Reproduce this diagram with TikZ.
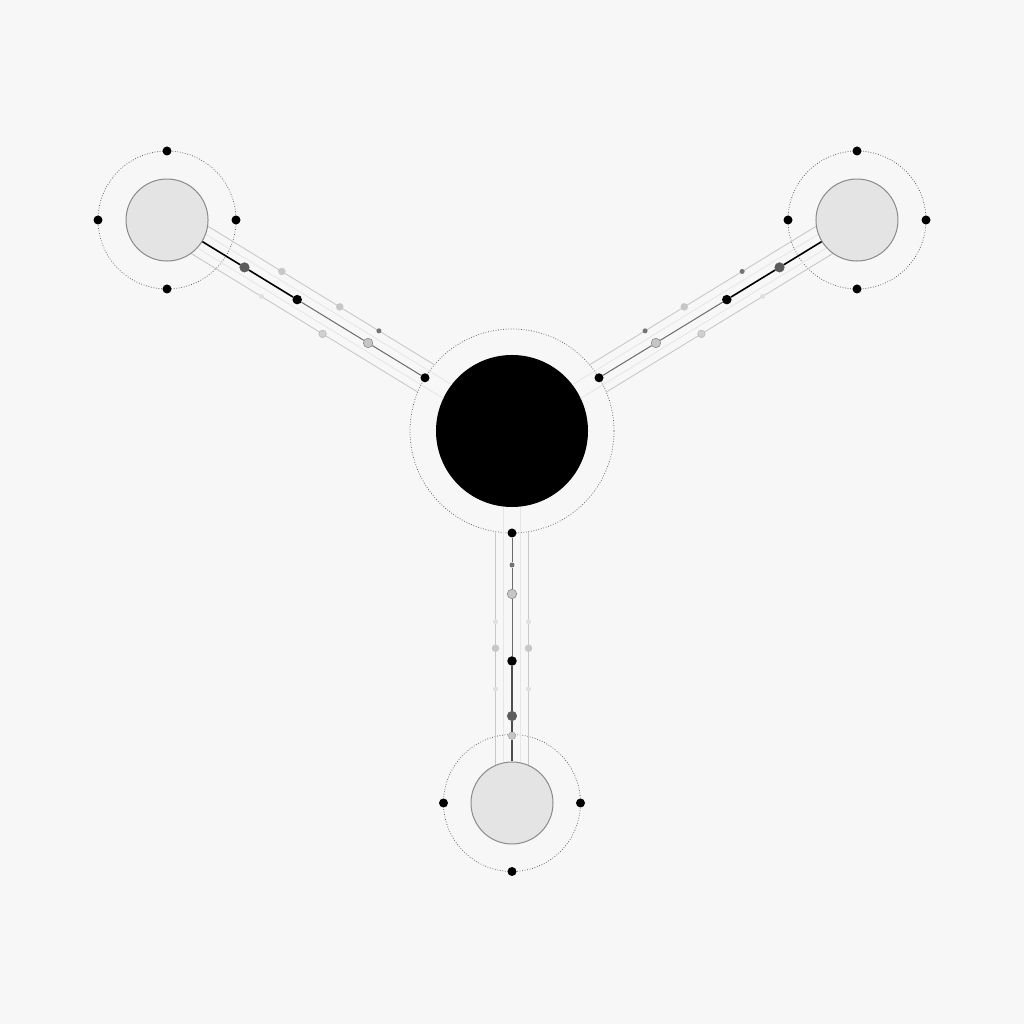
\documentclass[tikz,border=0pt]{standalone}
\usetikzlibrary{calc}
\definecolor{bg}{HTML}{F7F7F7}
\definecolor{satfill}{HTML}{E4E4E4}
\definecolor{satline}{HTML}{8A8A8A}
\definecolor{railc}{HTML}{C8C8C8}
\definecolor{faintc}{HTML}{E6E6E6}
\definecolor{darkdot}{HTML}{5C5C5C}
\definecolor{lightdot}{HTML}{C6C6C6}
\tikzset{
  x=1pt,y=1pt,
  blackdot/.style={circle,fill=black,inner sep=0,minimum size=9.5pt},
  ringdot/.style={circle,fill=black,inner sep=0,minimum size=9pt},
  darkbead/.style={circle,fill=darkdot,draw=black!65,line width=0.5pt,inner sep=0,minimum size=9.5pt},
  lightbead/.style={circle,fill=lightdot,draw=black!45,line width=0.6pt,inner sep=0,minimum size=9.5pt},
  lightsmall/.style={circle,fill=lightdot,draw=black!35,line width=0.5pt,inner sep=0,minimum size=7.5pt},
  smallbead/.style={circle,fill=black!55,inner sep=0,minimum size=5pt},
  railbead/.style={circle,fill=black!22,inner sep=0,minimum size=7.5pt},
  hatchbead/.style={circle,fill=black!18,draw=black!30,line width=0.5pt,inner sep=0,minimum size=7.5pt},
  faintbead/.style={circle,fill=black!12,inner sep=0,minimum size=5pt},
  ringline/.style={draw=black!65,line width=0.75pt,dash pattern=on 0.75pt off 1.8pt},
  satellite/.style={circle,fill=satfill,draw=satline,line width=1pt,minimum size=82pt,inner sep=0},
  hub/.style={circle,fill=black,minimum size=152pt,inner sep=0},
  railline/.style={draw=railc,line width=0.9pt},
  faintline/.style={draw=faintc,line width=0.8pt},
  mainblack/.style={draw=black,line width=1.6pt},
  maingray/.style={draw=black!58,line width=1pt},
  maindark/.style={draw=black!70,line width=1.3pt},
}
\begin{document}
\begin{tikzpicture}
\fill[bg] (0,0) rectangle (1024,1024);
\useasboundingbox (0,0) rectangle (1024,1024);
\coordinate (c) at (512,593);
\draw[ringline] (c) circle (102);
\node[hub] (hub) at (c) {};

% ---------- top-left arm ----------
\begin{scope}[shift={(512,593)},rotate=148.55]
  \draw[ringline] (404.4,0) circle (69);
  \coordinate (tlU1) at (100.7,-16); \coordinate (tlU2) at (366.6,-16);
  \coordinate (tlL1) at (100.7,16);  \coordinate (tlL2) at (366.6,16);
  \coordinate (tlF1) at (75.6,-8);   \coordinate (tlF2) at (364.2,-8);
  \coordinate (tlG1) at (75.6,8);    \coordinate (tlG2) at (364.2,8);
  \draw[faintline] (tlF1) -- (tlF2);
  \draw[faintline] (tlG1) -- (tlG2);
  \draw[railline] (tlU1) -- (tlU2);
  \draw[railline] (tlL1) -- (tlL2);
  \node[satellite] (sTL) at (404.4,0) {};
  \node[ringdot]  (rTL) at (102,0) {};
  \node[lightbead] (lTL) at (168.7,0) {};
  \node[blackdot] (mTL) at (251.8,0) {};
  \node[darkbead] (dTL) at (313.6,0) {};
  \node[railbead] (uTL1) at (279.6,-16) {};
  \node[railbead] (uTL2) at (211.7,-16) {};
  \node[smallbead] (uTL3) at (165.8,-16) {};
  \node[hatchbead] (bTL1) at (212.3,16) {};
  \node[faintbead] (bTL2) at (284,16) {};
  \draw[mainblack] (sTL) -- (dTL);
  \draw[mainblack] (dTL) -- (mTL);
  \draw[maingray] (mTL) -- (lTL);
  \draw[maingray] (lTL) -- (rTL);
\end{scope}
\node[ringdot] (tlN) at (167,873) {};
\node[ringdot] (tlS) at (167,735) {};
\node[ringdot] (tlW) at (98,804) {};
\node[ringdot] (tlE) at (236,804) {};

% ---------- top-right arm ----------
\begin{scope}[shift={(512,593)},rotate=31.45]
  \draw[ringline] (404.4,0) circle (69);
  \coordinate (trU1) at (100.7,16);  \coordinate (trU2) at (366.6,16);
  \coordinate (trL1) at (100.7,-16); \coordinate (trL2) at (366.6,-16);
  \coordinate (trF1) at (75.6,8);    \coordinate (trF2) at (364.2,8);
  \coordinate (trG1) at (75.6,-8);   \coordinate (trG2) at (364.2,-8);
  \draw[faintline] (trF1) -- (trF2);
  \draw[faintline] (trG1) -- (trG2);
  \draw[railline] (trU1) -- (trU2);
  \draw[railline] (trL1) -- (trL2);
  \node[satellite] (sTR) at (404.4,0) {};
  \node[ringdot]  (rTR) at (102,0) {};
  \node[lightbead] (lTR) at (168.7,0) {};
  \node[blackdot] (mTR) at (251.8,0) {};
  \node[darkbead] (dTR) at (313.6,0) {};
  \node[smallbead] (uTR1) at (279.6,16) {};
  \node[railbead] (uTR2) at (211.7,16) {};
  \node[smallbead] (uTR3) at (165.8,16) {};
  \node[hatchbead] (bTR1) at (212.3,-16) {};
  \node[faintbead] (bTR2) at (284,-16) {};
  \draw[mainblack] (sTR) -- (dTR);
  \draw[mainblack] (dTR) -- (mTR);
  \draw[maingray] (mTR) -- (lTR);
  \draw[maingray] (lTR) -- (rTR);
\end{scope}
\node[ringdot] (trN) at (857,873) {};
\node[ringdot] (trS) at (857,735) {};
\node[ringdot] (trW) at (788,804) {};
\node[ringdot] (trE) at (926,804) {};

% ---------- bottom arm ----------
\begin{scope}[shift={(512,593)},rotate=270]
  \draw[ringline] (372,0) circle (68.5);
  \coordinate (bU1) at (100.7,16.5); \coordinate (bU2) at (334.5,16.5);
  \coordinate (bL1) at (100.7,-16.5); \coordinate (bL2) at (334.5,-16.5);
  \coordinate (bF1) at (75.6,8.5);   \coordinate (bF2) at (332,8.5);
  \coordinate (bG1) at (75.6,-8.5);  \coordinate (bG2) at (332,-8.5);
  \draw[faintline] (bF1) -- (bF2);
  \draw[faintline] (bG1) -- (bG2);
  \draw[railline] (bU1) -- (bU2);
  \draw[railline] (bL1) -- (bL2);
  \node[satellite] (sB) at (372,0) {};
  \node[ringdot]  (rB) at (102,0) {};
  \node[smallbead] (s1B) at (134,0) {};
  \node[lightbead] (l1B) at (163,0) {};
  \node[blackdot] (mB) at (230,0) {};
  \node[darkbead] (dB) at (285,0) {};
  \node[lightsmall] (l2B) at (304.7,0) {};
  \node[faintbead] (bU3) at (190.7,16.5) {};
  \node[railbead]  (bU4) at (217.3,16.5) {};
  \node[faintbead] (bU5) at (258,16.5) {};
  \node[faintbead] (bL3) at (190.7,-16.5) {};
  \node[railbead]  (bL4) at (217.3,-16.5) {};
  \node[faintbead] (bL5) at (258,-16.5) {};
  \draw[maindark] (sB) -- (l2B);
  \draw[maindark] (l2B) -- (dB);
  \draw[maindark] (dB) -- (mB);
  \draw[maingray] (mB) -- (l1B);
  \draw[maingray] (l1B) -- (s1B);
  \draw[maingray] (s1B) -- (rB);
\end{scope}
\node[ringdot] (bS) at (512,152.5) {};
\node[ringdot] (bW) at (443.5,221) {};
\node[ringdot] (bE) at (580.5,221) {};
\end{tikzpicture}
\end{document}
